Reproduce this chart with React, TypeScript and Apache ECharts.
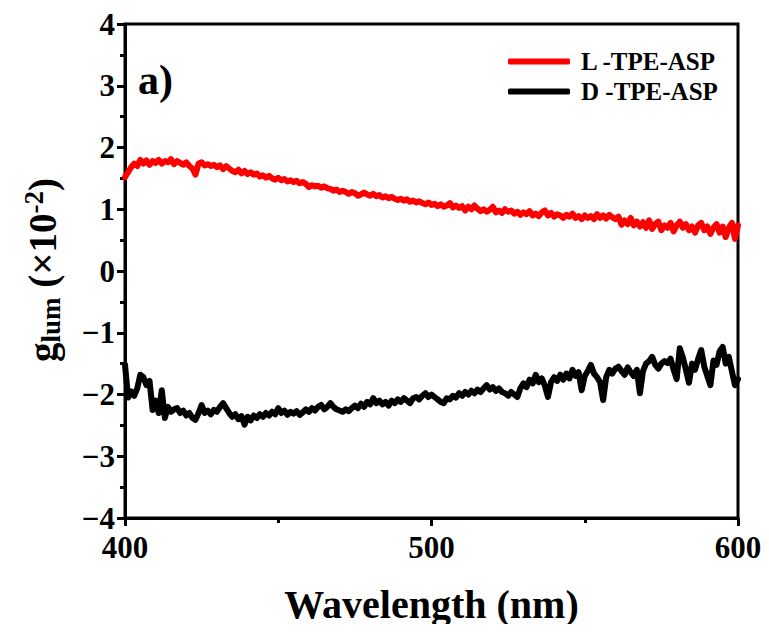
import React, { useEffect, useRef } from "react";
import * as echarts from "echarts";

const wavelengths: number[] = Array.from({ length: 201 }, (_, i) => 400 + i);

const lTpeAsp: number[] = [
  1.52, 1.6, 1.68, 1.74, 1.7, 1.8, 1.74, 1.79, 1.72, 1.78,
  1.75, 1.8, 1.74, 1.78, 1.76, 1.81, 1.73, 1.78, 1.75, 1.72,
  1.76, 1.7, 1.66, 1.56, 1.74, 1.76, 1.71, 1.73, 1.7, 1.72,
  1.68, 1.71, 1.65, 1.7, 1.66, 1.62, 1.6, 1.64, 1.58, 1.62,
  1.57, 1.6, 1.56, 1.58, 1.53, 1.55, 1.51, 1.54, 1.5, 1.48,
  1.51, 1.47, 1.49, 1.45, 1.47, 1.44, 1.46, 1.42, 1.44, 1.41,
  1.36, 1.39, 1.37, 1.38, 1.35, 1.37, 1.34, 1.33, 1.3, 1.32,
  1.28, 1.3, 1.28, 1.25, 1.28, 1.26, 1.22, 1.24, 1.27, 1.24,
  1.22, 1.25, 1.21, 1.23, 1.19, 1.21, 1.18, 1.2, 1.17, 1.15,
  1.17, 1.14, 1.16, 1.12, 1.14, 1.11, 1.13, 1.1, 1.08, 1.11,
  1.07, 1.09, 1.05, 1.08, 1.04, 1.06, 1.1, 1.03, 1.06, 1.02,
  1.05, 0.98, 1.04, 1.0, 1.06, 1.01, 0.97, 1.0, 0.96, 0.99,
  1.04, 0.95, 0.98, 0.94, 1.0, 0.96, 0.98, 0.93, 0.96, 0.91,
  0.95, 0.92, 0.97, 0.9, 0.93, 0.89, 0.95, 0.98, 0.9, 0.94,
  0.88, 0.92, 0.9, 0.86, 0.91, 0.88, 0.93, 0.86, 0.89, 0.84,
  0.9, 0.86, 0.89, 0.84, 0.92, 0.86, 0.9, 0.85, 0.91, 0.87,
  0.84, 0.88, 0.75, 0.82, 0.76, 0.86, 0.74, 0.8, 0.72, 0.79,
  0.7, 0.82, 0.68, 0.76, 0.8, 0.66, 0.74, 0.7, 0.78, 0.64,
  0.74, 0.8, 0.7, 0.76, 0.66, 0.72, 0.62, 0.74, 0.78, 0.66,
  0.72, 0.6, 0.7, 0.76, 0.62, 0.72, 0.55, 0.7, 0.78, 0.52,
  0.74,
];

const dTpeAsp: number[] = [
  -1.52, -2.05, -1.95, -2.02, -1.9, -1.68, -1.72, -1.85, -1.78, -2.25,
  -2.1, -2.3, -1.93, -2.38, -2.2, -2.28, -2.24, -2.22, -2.3, -2.26,
  -2.34, -2.3, -2.38, -2.41, -2.3, -2.17, -2.3, -2.26, -2.32, -2.25,
  -2.28, -2.2, -2.14, -2.22, -2.3, -2.36, -2.32, -2.4, -2.35, -2.49,
  -2.36, -2.42, -2.34, -2.38, -2.32, -2.36, -2.3, -2.34, -2.28, -2.32,
  -2.22, -2.3, -2.26, -2.33, -2.28, -2.31, -2.27, -2.33, -2.29, -2.24,
  -2.28, -2.22, -2.26, -2.2, -2.17, -2.24, -2.2, -2.14, -2.2, -2.24,
  -2.26, -2.28, -2.24, -2.27, -2.22, -2.18, -2.22, -2.15, -2.2, -2.12,
  -2.16, -2.06, -2.14, -2.1, -2.16, -2.12, -2.18, -2.1, -2.14, -2.08,
  -2.12, -2.06, -2.1, -2.14, -2.06, -2.04, -2.08, -2.02, -1.98, -2.04,
  -2.0, -2.04, -2.08, -2.12, -2.14, -2.06, -2.08, -2.02, -2.05, -1.98,
  -2.02, -1.96, -2.0, -1.94, -1.98, -1.92, -1.96, -1.9, -1.85, -1.92,
  -1.88, -1.94, -1.9, -1.96, -1.98, -2.02, -1.96, -2.0, -2.04, -1.9,
  -1.82, -1.88, -1.76, -1.82, -1.68, -1.8, -1.74, -1.86, -2.04, -1.8,
  -1.72, -1.78, -1.68, -1.76, -1.66, -1.74, -1.6, -1.7, -1.64, -1.93,
  -1.7, -1.62, -1.52, -1.66, -1.72, -1.8, -2.09, -1.72, -1.6, -1.66,
  -1.58, -1.55, -1.62, -1.68, -1.56, -1.64, -1.7, -1.6, -1.98, -1.62,
  -1.5, -1.46, -1.39, -1.52, -1.58, -1.5, -1.46, -1.49, -1.42, -1.6,
  -1.75, -1.25, -1.4, -1.6, -1.81, -1.5, -1.6, -1.42, -1.28, -1.55,
  -1.7, -1.85, -1.45, -1.52, -1.3, -1.23, -1.5, -1.39, -1.62, -1.85,
  -1.75,
];

const seriesNames: string[] = ["L -TPE-ASP", "D -TPE-ASP"];
const seriesColors: string[] = ["#ff0000", "#000000"];
const yTicks: number[] = [-4, -3, -2, -1, 0, 1, 2, 3, 4];
const xTicks: number[] = [400, 500, 600];

const FONT = "'Liberation Serif', 'Times New Roman', serif";

export default function App() {
  const ref = useRef<HTMLDivElement>(null);

  useEffect(() => {
    if (!ref.current) return;
    const chart = echarts.init(ref.current, null, { renderer: "svg" });
    const toPairs = (vals: number[]) => wavelengths.map((w, i) => [w, vals[i]]);

    const option: any = {
      animation: false,
      backgroundColor: "#ffffff",
      grid: {
        left: 125,
        right: 31,
        top: 24,
        bottom: 114,
        show: true,
        borderColor: "#000",
        borderWidth: 3,
        backgroundColor: "transparent",
        outerBoundsMode: "none",
      },
      legend: {
        left: 503,
        top: 44,
        orient: "vertical",
        itemWidth: 62,
        itemHeight: 6,
        itemGap: 5,
        icon: "roundRect",
        data: seriesNames,
        textStyle: {
          fontFamily: FONT,
          fontWeight: "bold",
          fontSize: 25,
          color: "#000",
          padding: [0, 0, 0, 6],
        },
      },
      xAxis: {
        type: "value",
        min: 400,
        max: 600,
        interval: 100,
        minorTick: { show: true, splitNumber: 2, length: 5, lineStyle: { color: "#000", width: 3 } },
        axisLine: { show: true, onZero: false, lineStyle: { color: "#000", width: 3 } },
        axisTick: { show: true, inside: false, length: 8, lineStyle: { color: "#000", width: 3 } },
        splitLine: { show: false },
        axisLabel: {
          margin: 14,
          fontFamily: FONT,
          fontWeight: "bold",
          fontSize: 31,
          color: "#000",
          showMinLabel: true,
          showMaxLabel: true,
          formatter: (v: number) => (xTicks.includes(v) ? String(v) : ""),
        },
        name: "Wavelength (nm)",
        nameLocation: "middle",
        nameGap: 66,
        nameTextStyle: {
          fontFamily: FONT,
          fontWeight: "bold",
          fontSize: 40,
          color: "#000",
        },
      },
      yAxis: {
        type: "value",
        min: -4,
        max: 4,
        interval: 1,
        minorTick: { show: true, splitNumber: 2, length: 5, lineStyle: { color: "#000", width: 3 } },
        axisLine: { show: true, onZero: false, lineStyle: { color: "#000", width: 3 } },
        axisTick: { show: true, inside: false, length: 8, lineStyle: { color: "#000", width: 3 } },
        splitLine: { show: false },
        axisLabel: {
          margin: 10,
          fontFamily: FONT,
          fontWeight: "bold",
          fontSize: 31,
          color: "#000",
          formatter: (v: number) =>
            yTicks.includes(v) ? (v < 0 ? "\u2212" + String(Math.abs(v)) : String(v)) : "",
        },
      },
      graphic: [
        {
          type: "text",
          x: 138,
          y: 80,
          style: {
            text: "a)",
            fontFamily: FONT,
            fontWeight: "bold",
            fontSize: 42,
            fill: "#000",
            verticalAlign: "middle",
            align: "left",
          },
        },
        {
          type: "text",
          x: 42,
          y: 270,
          rotation: Math.PI / 2,
          style: {
            text: "{m|g}{sub|lum}{m| (×10}{sup|-2}{m|)}",
            align: "center",
            verticalAlign: "middle",
            fill: "#000",
            rich: {
              m: {
                fontFamily: FONT,
                fontWeight: "bold",
                fontSize: 39,
                lineHeight: 44,
                verticalAlign: "middle",
                fill: "#000",
              },
              sub: {
                fontFamily: FONT,
                fontWeight: "bold",
                fontSize: 27,
                lineHeight: 44,
                verticalAlign: "bottom",
                padding: [14, 0, 0, 0],
                fill: "#000",
              },
              sup: {
                fontFamily: FONT,
                fontWeight: "bold",
                fontSize: 27,
                lineHeight: 44,
                verticalAlign: "top",
                padding: [0, 0, 14, 0],
                fill: "#000",
              },
            },
          },
        },
      ],
      series: [
        {
          name: seriesNames[0],
          type: "line",
          data: toPairs(lTpeAsp),
          showSymbol: false,
          symbol: "none",
          lineStyle: { color: seriesColors[0], width: 6, join: "round", cap: "round" },
          itemStyle: { color: seriesColors[0] },
          z: 3,
        },
        {
          name: seriesNames[1],
          type: "line",
          data: toPairs(dTpeAsp),
          showSymbol: false,
          symbol: "none",
          lineStyle: { color: seriesColors[1], width: 6, join: "round", cap: "round" },
          itemStyle: { color: seriesColors[1] },
          z: 3,
        },
      ],
    };
    chart.setOption(option);
    return () => chart.dispose();
  }, []);

  return <div ref={ref} style={{ width: 769, height: 632, margin: -8 }} />;
}
